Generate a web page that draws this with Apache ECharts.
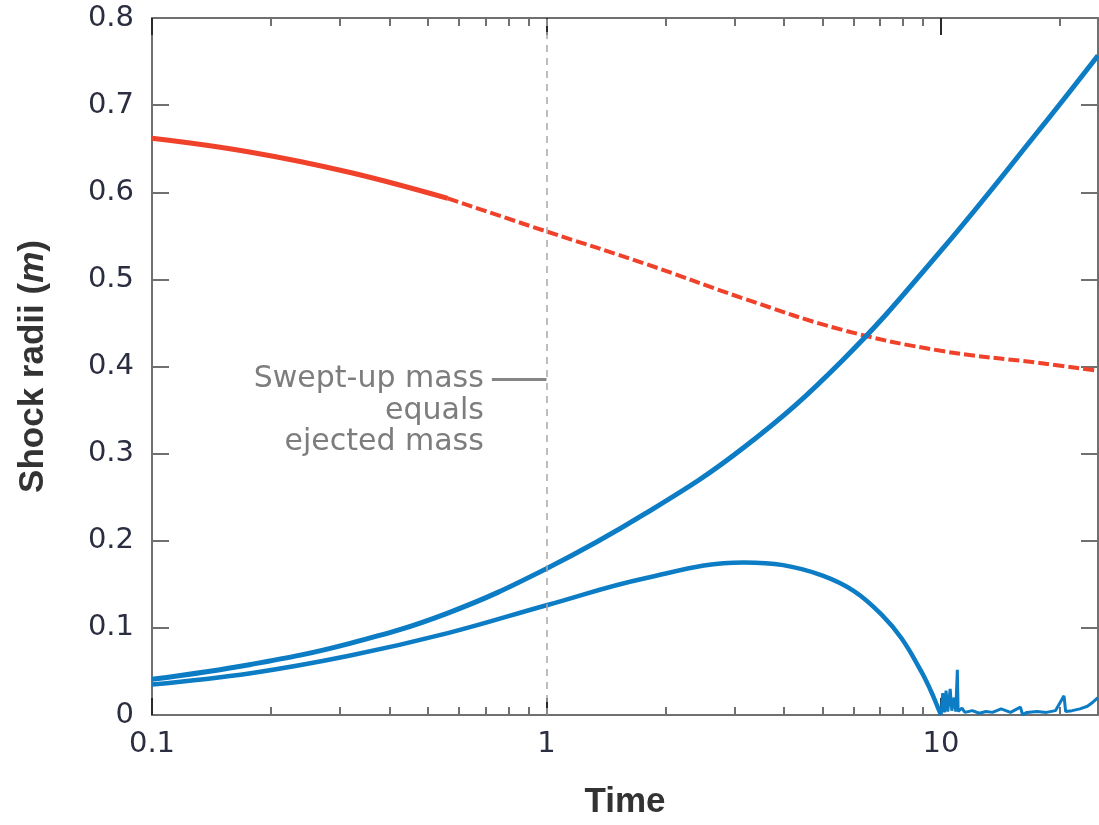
<!DOCTYPE html>
<html>
<head>
<meta charset="utf-8">
<script src="https://cdn.jsdelivr.net/npm/echarts@6/dist/echarts.min.js"></script>
<style>
html,body{margin:0;padding:0;background:#fff;}
#main{width:1099px;height:825px;}
</style>
</head>
<body>
<div id="main"></div>
<script>
// ---- data ----
const xMajorTicks = [0.1, 1, 10];
const xMinorTicks = [0.2,0.3,0.4,0.5,0.6,0.7,0.8,0.9,2,3,4,5,6,7,8,9,20];

// red curve: solid (early) part and dashed (late) part
const redSolid = [[0.1,0.662],[0.178,0.646],[0.316,0.623],[0.562,0.593]];
const redDashed = [[0.562,0.593],[1,0.555],[1.778,0.518],[3.162,0.478],[5.623,0.442],
  [10,0.418],[17.78,0.404],[25,0.395]];

// upper blue curve
const blueUpper = [[0.1,0.041],[0.178,0.058],[0.316,0.082],[0.562,0.117],[1,0.168],
  [1.778,0.231],[3.162,0.307],[5.623,0.407],[10,0.533],[17.78,0.672],[25,0.757]];

// lower blue curve
const blueLower = [[0.1,0.035],[0.178,0.048],[0.316,0.068],[0.562,0.094],[1,0.126],
  [1.778,0.157],[3.162,0.175],[3.98,0.172],[5.01,0.160],[6.03,0.142],[7.08,0.115],
  [7.94,0.088],[8.91,0.050],[9.44,0.027],[9.77,0.011],[10,0.0]];

// noisy tail of lower blue curve after t=10
const blueTail = [[10,0.0],[10.1,0.025],[10.2,0.003],[10.3,0.028],[10.4,0.004],[10.55,0.030],
  [10.65,0.005],[10.8,0.020],[10.9,0.004],[11.0,0.052],[11.05,0.004],[11.3,0.008],[11.5,0.003],
  [12,0.005],[12.5,0.002],[13,0.004],[13.5,0.003],[14.2,0.007],[15,0.003],[15.9,0.009],
  [16.1,0.0],[16.5,0.003],[17.5,0.004],[18.5,0.003],[19.5,0.005],[20.5,0.022],[20.7,0.004],
  [21.5,0.005],[22.5,0.007],[23.5,0.010],[24.3,0.015],[25,0.020]];

const markTime = 1;          // vertical dashed line
const annotY = 0.385;        // annotation pointer height
const annotStart = 0.727;    // pointer line start (time)
const annotText = ['Swept-up mass', 'equals', 'ejected mass'];

const xName = 'Time';
// ---------------------------------------

const RED = '#f0412a';
const BLUE = '#0c7cc4';
const AXIS = '#707070';
const LABEL = '#2b2d40';
const TICKFONT = 'DejaVu Sans';

const chart = echarts.init(document.getElementById('main'), null, {renderer:'canvas'});

function xAxisDef(pos, major) {
  return {
    type: 'log', logBase: 10, min: 0.1, max: 25, position: pos,
    gridIndex: 0,
    axisLine: {show: major, lineStyle: {color: AXIS, width: 2}},
    axisTick: {show: true, inside: true, length: major ? 17 : 8,
      customValues: major ? xMajorTicks : xMinorTicks,
      lineStyle: {color: major ? '#2a2a2a' : AXIS, width: 2}},
    axisLabel: (major && pos === 'bottom') ? {
      show: true, customValues: xMajorTicks, margin: 15,
      fontSize: 29, fontFamily: TICKFONT, color: LABEL,
      formatter: v => String(+(+v).toPrecision(6))
    } : {show: false},
    minorTick: {show: false},
    splitLine: {show: false},
    name: (major && pos === 'bottom') ? xName : '',
    nameLocation: 'middle', nameGap: 70,
    nameTextStyle: {fontFamily: 'Liberation Sans', fontWeight: 'bold', fontSize: 35, color: '#333'}
  };
}

const option = {
  animation: false,
  backgroundColor: '#fff',
  grid: {left: 152, right: 1, top: 18, bottom: 107, containLabel: false},
  xAxis: [
    xAxisDef('bottom', true),
    xAxisDef('bottom', false),
    xAxisDef('top', true),
    xAxisDef('top', false)
  ],
  yAxis: [
    {
      type: 'value', min: 0, max: 0.8, interval: 0.1, position: 'left',
      axisLine: {show: true, lineStyle: {color: AXIS, width: 2}},
      axisTick: {show: true, inside: true, length: 17, lineStyle: {color: AXIS, width: 2}},
      axisLabel: {show: true, margin: 18, fontSize: 29, fontFamily: TICKFONT, color: LABEL,
        formatter: v => (v === 0 ? '0' : v.toFixed(1))},
      splitLine: {show: false},
      name: '{b|Shock radii (}{i|m}{b|)}',
      nameLocation: 'middle', nameGap: 101, nameRotate: 90,
      nameTextStyle: {
        rich: {
          b: {fontFamily: 'Liberation Sans', fontWeight: 'bold', fontSize: 35, color: '#333'},
          i: {fontFamily: 'Liberation Sans', fontWeight: 'bold', fontStyle: 'italic', fontSize: 35, color: '#333'}
        }
      }
    },
    {
      type: 'value', min: 0, max: 0.8, interval: 0.1, position: 'right',
      axisLine: {show: true, lineStyle: {color: AXIS, width: 2}},
      axisTick: {show: true, inside: true, length: 17, lineStyle: {color: AXIS, width: 2}},
      axisLabel: {show: false},
      splitLine: {show: false}
    }
  ],
  series: [
    {
      name: 'guide', type: 'line', xAxisIndex: 0, yAxisIndex: 0, data: [],
      silent: true, z: 1,
      markLine: {
        silent: true, symbol: 'none', label: {show: false}, animation: false,
        data: [
          [{coord: [markTime, 0], lineStyle: {color: '#a8a8a8', width: 1.5, type: [7, 6]}},
           {coord: [markTime, 0.8]}],
          [{coord: [annotStart, annotY], lineStyle: {color: '#858585', width: 3, type: 'solid'}},
           {coord: [markTime, annotY]}]
        ]
      }
    },
    {
      name: 'redSolid', type: 'line', xAxisIndex: 0, yAxisIndex: 0, data: redSolid,
      showSymbol: false, smooth: 0.4, z: 3,
      lineStyle: {color: RED, width: 5}
    },
    {
      name: 'redDashed', type: 'line', xAxisIndex: 0, yAxisIndex: 0, data: redDashed,
      showSymbol: false, smooth: 0.4, z: 3,
      lineStyle: {color: RED, width: 4, type: [11, 4]}
    },
    {
      name: 'blueUpper', type: 'line', xAxisIndex: 0, yAxisIndex: 0, data: blueUpper,
      showSymbol: false, smooth: 0.4, z: 4,
      lineStyle: {color: BLUE, width: 5}
    },
    {
      name: 'blueLower', type: 'line', xAxisIndex: 0, yAxisIndex: 0, data: blueLower,
      showSymbol: false, smooth: 0.4, z: 4,
      lineStyle: {color: BLUE, width: 4.5}
    },
    {
      name: 'blueTail', type: 'line', xAxisIndex: 0, yAxisIndex: 0, data: blueTail,
      showSymbol: false, smooth: false, z: 4,
      lineStyle: {color: BLUE, width: 3}
    }
  ]
};

chart.setOption(option);

const p = chart.convertToPixel({xAxisIndex: 0, yAxisIndex: 0}, [annotStart, annotY]);
chart.setOption({
  graphic: [{
    type: 'text', silent: true, z: 10,
    x: p[0] - 8, y: p[1] - 16,
    style: {
      text: annotText.join('\n'),
      align: 'right', verticalAlign: 'top',
      fontFamily: TICKFONT, fontSize: 30, lineHeight: 31.5,
      fill: '#7d7d7d'
    }
  }]
});
</script>
</body>
</html>
